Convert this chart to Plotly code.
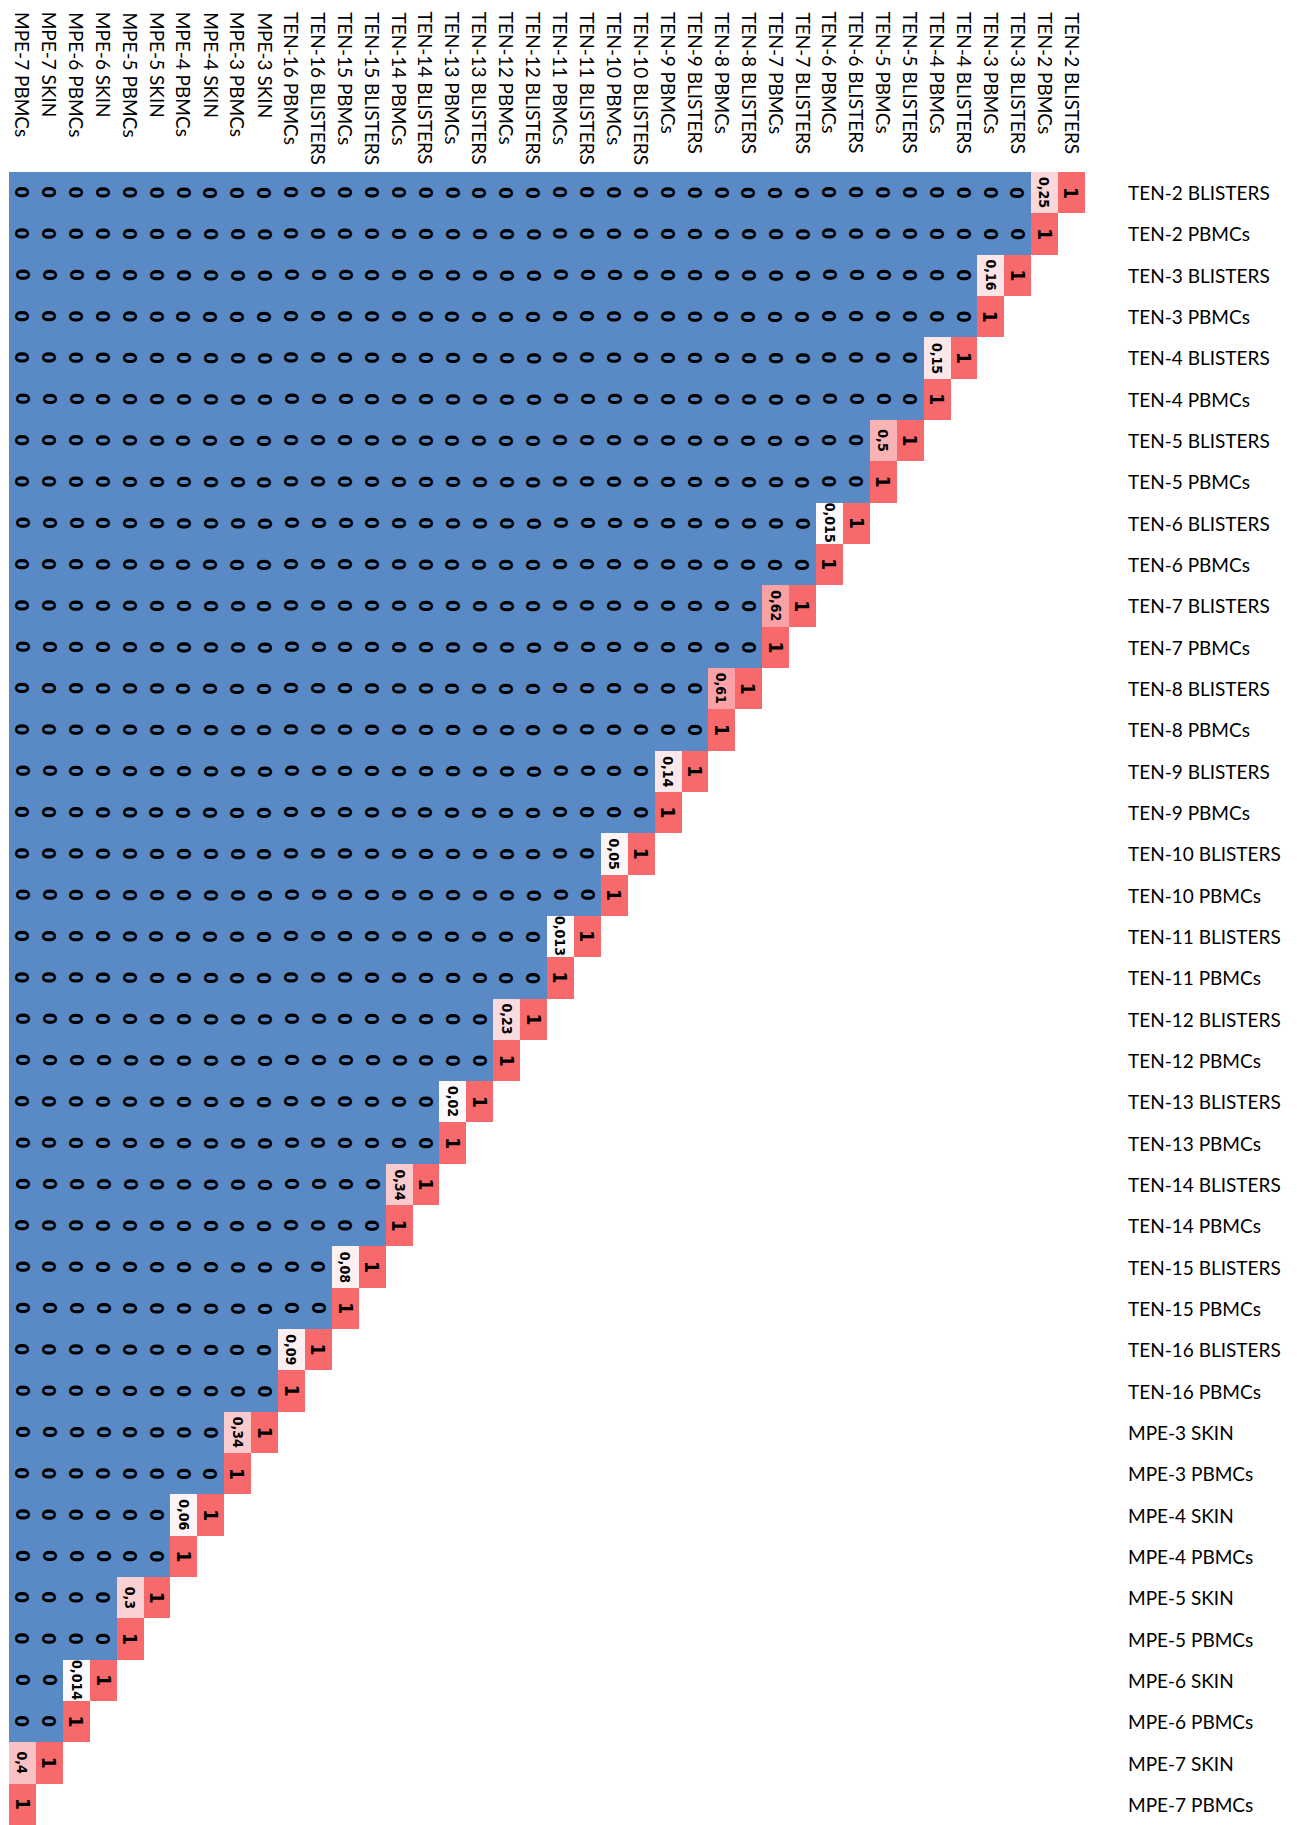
import plotly.graph_objects as go

# Sample pairs: lesional tissue and matched PBMCs for each patient
patients = ["TEN-2", "TEN-3", "TEN-4", "TEN-5", "TEN-6", "TEN-7", "TEN-8", "TEN-9",
            "TEN-10", "TEN-11", "TEN-12", "TEN-13", "TEN-14", "TEN-15", "TEN-16",
            "MPE-3", "MPE-4", "MPE-5", "MPE-6", "MPE-7"]
lesion_tissue = ["BLISTERS"] * 15 + ["SKIN"] * 5
# Overlap index between the lesional sample and the PBMC sample of the same patient
pair_overlap = [0.25, 0.16, 0.15, 0.5, 0.015, 0.62, 0.61, 0.14, 0.05, 0.013,
                0.23, 0.02, 0.34, 0.08, 0.09, 0.34, 0.06, 0.3, 0.014, 0.4]

row_labels = []
for p, t in zip(patients, lesion_tissue):
    row_labels += [f"{p} {t}", f"{p} PBMCs"]
col_labels = row_labels[::-1]
n = len(row_labels)

# Upper-left triangle matrix: rows top→bottom, columns left→right (reversed order)
z = []
for i in range(n):
    row = []
    for j in range(n):
        if j > n - 1 - i:
            row.append(None)
        elif j == n - 1 - i:
            row.append(1)
        elif j == n - 2 - i and i % 2 == 0:
            row.append(pair_overlap[i // 2])
        else:
            row.append(0)
    z.append(row)

W, H = 1297, 1825
ML, MR, MT, MB = 9, 212, 172, 0
pw, ph = W - ML - MR, H - MT - MB

BLUE, WHITE, RED = "#5A8AC6", "#FCFCFF", "#F8696B"
colorscale = [[0, BLUE], [0.001, BLUE], [0.001, WHITE], [1, RED]]

fig = go.Figure(go.Heatmap(
    z=z, x=list(range(n)), y=list(range(n)),
    zmin=0, zmax=1, colorscale=colorscale, showscale=False,
    hoverongaps=False, xgap=0, ygap=0,
))

def fmt(v):
    return f"{v:g}".replace(".", ",")

annotations = []
cell_family = "Liberation Sans Narrow, DejaVu Sans Condensed, Lato, sans-serif"
for i in range(n):
    for j in range(n):
        v = z[i][j]
        if v is None:
            continue
        txt = fmt(v)
        # long decimals are shrunk to fit the cell height
        size = 19 if len(txt) == 1 else 14
        annotations.append(dict(x=j, y=i, xref="x", yref="y", text=txt,
                                showarrow=False, textangle=90,
                                font=dict(family=cell_family, size=size,
                                          color="black", weight="bold")))

label_font = dict(family="Lato, Open Sans, sans-serif", size=19, color="black")
for j, lab in enumerate(col_labels):
    annotations.append(dict(x=j, y=1 + (MT - 10) / ph, xref="x", yref="paper",
                            text=lab, showarrow=False, textangle=90,
                            xanchor="center", yanchor="top", font=label_font))
for i, lab in enumerate(row_labels):
    annotations.append(dict(x=1 + 41 / pw, y=i, xref="paper", yref="y",
                            text=lab, showarrow=False, xanchor="left",
                            yanchor="middle", font=label_font))

fig.update_layout(
    width=W, height=H,
    margin=dict(l=ML, r=MR, t=MT, b=MB, pad=0),
    paper_bgcolor="white", plot_bgcolor="white",
    xaxis=dict(range=[-0.5, n - 0.5], showgrid=False, zeroline=False,
               showticklabels=False, ticks="", fixedrange=True),
    yaxis=dict(range=[n - 0.5, -0.5], showgrid=False, zeroline=False,
               showticklabels=False, ticks="", fixedrange=True),
    annotations=annotations,
)

fig.write_html("out.html")
